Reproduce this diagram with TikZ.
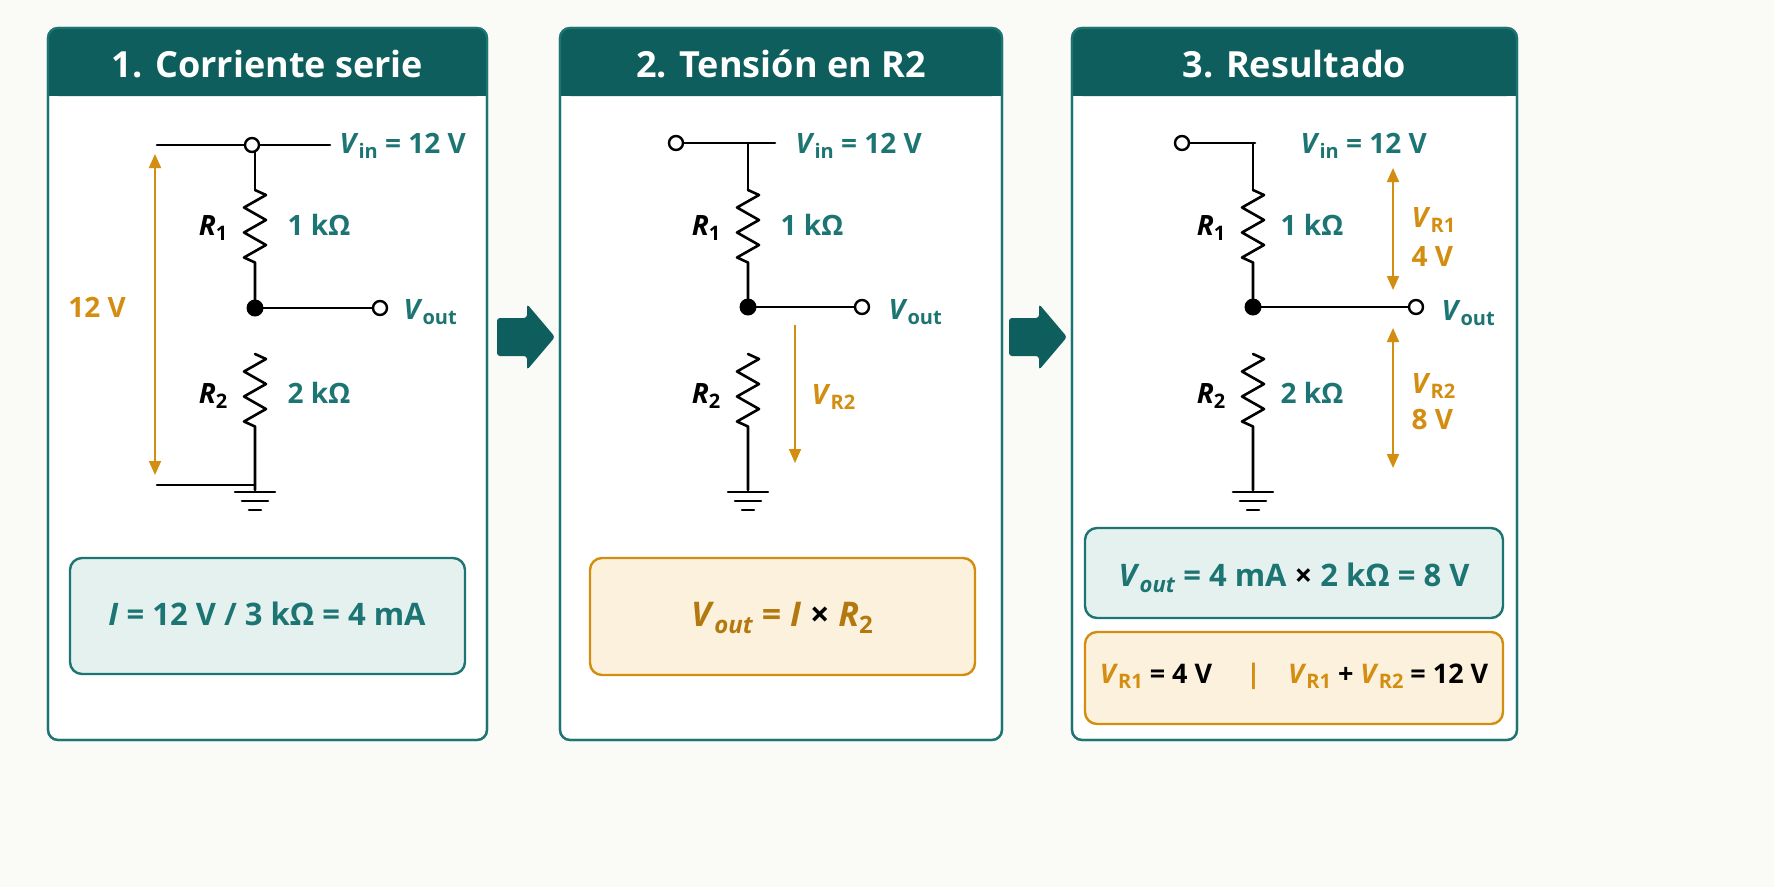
\documentclass[tikz,border=0pt]{standalone}
\usepackage{fontspec}
\setmainfont{Open Sans}
\usetikzlibrary{arrows.meta}
\definecolor{bg}{HTML}{FAFAF6}
\definecolor{hdr}{HTML}{0E5E5D}
\definecolor{tl}{HTML}{1D7573}
\definecolor{org}{HTML}{D38E12}
\definecolor{tlf}{HTML}{E5F1EF}
\definecolor{orf}{HTML}{FCF1DD}
\newcommand\Vsub[2]{\textit{#1}{\fontsize{20}{21}\selectfont\raisebox{-5pt}{#2}}}
\tikzset{
 wire/.style={line width=2.6pt,black,line cap=round,line join=round},
 lbl/.style={font=\fontsize{28}{30}\selectfont\bfseries},
 term/.style={circle,draw=black,line width=2.4pt,fill=white,minimum size=14pt,inner sep=0pt},
 dot/.style={circle,fill=black,minimum size=17pt,inner sep=0pt},
 varr/.style={line width=2pt,org,{Triangle[length=14pt,width=12pt]}-{Triangle[length=14pt,width=12pt]}},
 panel/.style={draw=tl,line width=2.2pt,fill=white,rounded corners=10pt},
 tbox/.style={draw=tl,line width=2.4pt,fill=tlf,rounded corners=12pt},
 obox/.style={draw=org,line width=2.4pt,fill=orf,rounded corners=12pt}
}
\newcommand\resist[3]{\draw[wire] (#1,#2) -- ++(11,5) -- ++(-22,12.5) -- ++(22,12.5) -- ++(-22,12.5) -- ++(22,12.5) -- ++(-22,12.5) -- ++(11,5) -- (#1,#3);}
\newcommand\gnd[2]{\draw[wire] (#1-20,#2) -- (#1+20,#2); \draw[wire] (#1-13,#2+9) -- (#1+13,#2+9); \draw[wire] (#1-6,#2+18) -- (#1+6,#2+18);}
\newcommand\flowarrow[1]{\fill[hdr,rounded corners=3pt] (#1,318) -- (#1+30,318) -- (#1+30,304) -- (#1+58,337) -- (#1+30,370) -- (#1+30,356) -- (#1,356) -- cycle;}
\begin{document}
\begin{tikzpicture}[x=1pt,y=-1pt]
\fill[bg] (0,0) rectangle (1774,887);
% panels
\foreach \a/\b/\t [count=\i] in {48/487/1. Corriente serie,560/1002/2. Tensión en R2,1072/1517/3. Resultado}{
 \draw[panel] (\a,28) rectangle (\b,740);
 \fill[hdr,rounded corners=10pt] (\a,28) rectangle (\b,96);
 \fill[hdr] (\a,60) rectangle (\b,96);
 \draw[tl,line width=2.2pt,rounded corners=10pt] (\a,28) rectangle (\b,740);
 \node[white,font=\fontsize{36}{40}\selectfont\bfseries] (h\i) at ({(\a+\b)/2},64) {\t};
}
\flowarrow{497}
\flowarrow{1009}

% ---------- panel 1
\draw[wire] (157,145) -- (330,145);
\draw[wire] (255,145) -- (255,190);
\resist{255}{190}{308}
\resist{255}{354}{490}
\draw[wire] (157,485) -- (255,485);
\gnd{255}{492}
\draw[wire] (255,308) -- (380,308);
\node[term] (t1a) at (252,145) {};
\node[term] (t1b) at (380,308) {};
\node[dot] (n1) at (255,308) {};
\draw[varr] (155,154) -- (155,475);
\node[lbl,org] at (97,307) {12 V};
\node[lbl,anchor=west,tl] at (336,146) {\Vsub{V}{in} = 12 V};
\node[lbl,anchor=west,tl] at (400,312) {\Vsub{V}{out}};
\node[lbl] at (213,228) {\Vsub{R}{1}};
\node[lbl] at (213,396) {\Vsub{R}{2}};
\node[lbl,tl] at (319,225) {1 kΩ};
\node[lbl,tl] at (319,393) {2 kΩ};
\draw[tbox] (70,558) rectangle (465,674);
\node[tl,font=\fontsize{31}{34}\selectfont\bfseries] (b1) at (267,614) {\textit{I} = 12 V / 3 kΩ = 4 mA};

% ---------- panel 2
\draw[wire] (676,143) -- (775,143);
\draw[wire] (748,143) -- (748,190);
\resist{748}{190}{307}
\resist{748}{354}{490}
\gnd{748}{492}
\draw[wire] (748,307) -- (862,307);
\node[term] (t2a) at (676,143) {};
\node[term] (t2b) at (862,307) {};
\node[dot] (n2) at (748,307) {};
\draw[line width=2pt,org,-{Triangle[length=14pt,width=12pt]}] (795,325) -- (795,463);
\node[lbl,org,anchor=west] at (808,397) {\Vsub{V}{R2}};
\node[lbl,anchor=west,tl] at (792,146) {\Vsub{V}{in} = 12 V};
\node[lbl,anchor=west,tl] at (885,312) {\Vsub{V}{out}};
\node[lbl] at (706,228) {\Vsub{R}{1}};
\node[lbl] at (706,396) {\Vsub{R}{2}};
\node[lbl,tl] at (812,225) {1 kΩ};
\draw[obox] (590,558) rectangle (975,675);
\node[org!85!black,font=\fontsize{34}{36}\selectfont\bfseries] (b2) at (782,618) {\textit{V}{\fontsize{24}{26}\selectfont\raisebox{-7pt}{\textit{out}}} = \textit{I} {\color{black}×} \textit{R}{\fontsize{24}{26}\selectfont\raisebox{-7pt}{2}}};

% ---------- panel 3
\draw[wire] (1182,143) -- (1255,143);
\draw[wire] (1253,143) -- (1253,190);
\resist{1253}{190}{307}
\resist{1253}{354}{490}
\gnd{1253}{492}
\draw[wire] (1253,307) -- (1416,307);
\node[term] (t3a) at (1182,143) {};
\node[term] (t3b) at (1416,307) {};
\node[dot] (n3) at (1253,307) {};
\draw[varr] (1393,168) -- (1393,290);
\draw[varr] (1393,328) -- (1393,468);
\node[lbl,org,anchor=west] at (1408,220) {\Vsub{V}{R1}};
\node[lbl,org,anchor=west] at (1408,256) {4 V};
\node[lbl,org,anchor=west] at (1408,386) {\Vsub{V}{R2}};
\node[lbl,org,anchor=west] at (1408,420) {8 V};
\node[lbl,anchor=west,tl] at (1297,146) {\Vsub{V}{in} = 12 V};
\node[lbl,anchor=west,tl] at (1438,313) {\Vsub{V}{out}};
\node[lbl] at (1211,228) {\Vsub{R}{1}};
\node[lbl] at (1211,396) {\Vsub{R}{2}};
\node[lbl,tl] at (1312,225) {1 kΩ};
\node[lbl,tl] at (1312,393) {2 kΩ};
\draw[tbox] (1085,528) rectangle (1503,618);
\node[tl,font=\fontsize{31}{34}\selectfont\bfseries] (b3) at (1294,578) {\textit{V}{\fontsize{22}{24}\selectfont\raisebox{-6pt}{\textit{out}}} = 4 mA {\color{black}×} 2 kΩ = 8 V};
\draw[obox] (1085,632) rectangle (1503,724);
\node[font=\fontsize{27}{30}\selectfont\bfseries] (b4) at (1294,676) {{\color{org}\Vsub{V}{R1}} = 4 V \quad{\color{org}|}\quad {\color{org}\Vsub{V}{R1}} + {\color{org}\Vsub{V}{R2}} = 12 V};
\pgfresetboundingbox
\useasboundingbox (0,0) rectangle (1774,887);
\end{tikzpicture}
\end{document}
